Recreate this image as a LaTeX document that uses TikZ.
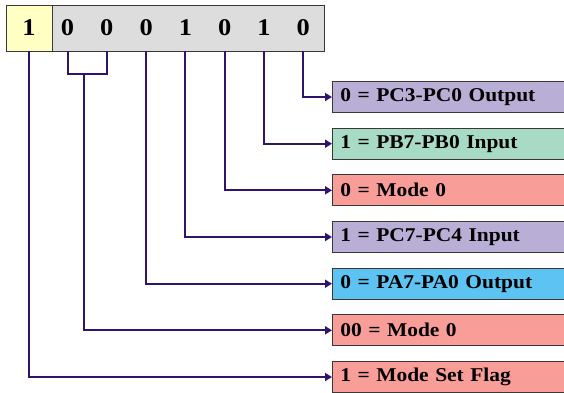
\documentclass[tikz,border=0pt]{standalone}
\usepackage{fontspec}
\setmainfont{Liberation Serif}
\newfontfamily\lblfont[FakeStretch=1.1]{Liberation Serif}
\usetikzlibrary{arrows.meta,positioning}
\definecolor{wirecol}{RGB}{46,20,110}
\definecolor{regGray}{RGB}{221,221,221}
\definecolor{flagYel}{RGB}{255,255,196}
\definecolor{portC}{RGB}{185,174,214}
\definecolor{portB}{RGB}{167,219,198}
\definecolor{modeRed}{RGB}{249,157,153}
\definecolor{portA}{RGB}{92,195,242}
\definecolor{edge}{RGB}{60,55,55}
\tikzset{>={Triangle[length=7pt,width=8pt]}}

\begin{document}
\begin{tikzpicture}[x=1pt,y=-1pt,
	bit/.style={minimum width=39pt, minimum height=46pt, inner sep=0pt,
		font=\lblfont\fontsize{24}{24}\selectfont\bfseries},
	lbl/.style={draw=edge, line width=0.8pt, rectangle, anchor=west,
		minimum height=31pt, text width=222pt, inner xsep=8pt, inner ysep=0pt,
		align=left, font=\lblfont\fontsize{19.5}{19.5}\selectfont\bfseries},
	wire/.style={draw=wirecol, line width=2pt}]
	\useasboundingbox (0,0) rectangle (564,392);
	%% Register
	\node [draw=edge, line width=0.8pt, fill=regGray, minimum width=272pt,
		minimum height=46pt, inner sep=0pt] (reg) at (188,28) {};
	\node [bit, draw=edge, line width=0.8pt, fill=flagYel, minimum width=46pt] (b7) at (29,28) {1};
	\foreach \d [count=\k from 0] in {0,0,0,1,0,1,0} {
		\pgfmathtruncatemacro\i{6-\k}
		\node [bit] (b\i) at (67.5+39.3*\k,28) {\d};
	}
	%% Labels
	\node [lbl, fill=portC]   (L0) at (332,97)    {0 = PC3-PC0 Output};
	\node [lbl, fill=portB]   (L1) at (332,143.7) {1 = PB7-PB0 Input};
	\node [lbl, fill=modeRed] (L2) at (332,190.3) {0 = Mode 0};
	\node [lbl, fill=portC]   (L3) at (332,237)   {1 = PC7-PC4 Input};
	\node [lbl, fill=portA]   (L4) at (332,283.7) {0 = PA7-PA0 Output};
	\node [lbl, fill=modeRed] (L5) at (332,330.3) {00 = Mode 0};
	\node [lbl, fill=modeRed] (L6) at (332,377)   {1 = Mode Set Flag};
	%% Wires
	\coordinate (j) at (84,74);
	\draw [wire] (b6.south) |- (j) -| (b5.south);
	\foreach \i in {0,...,4}
		\draw [wire, ->] (b\i.south) |- (L\i.west);
	\draw [wire, ->] (j) |- (L5.west);
	\draw [wire, ->] (b7.south) |- (L6.west);
\end{tikzpicture}
\end{document}
